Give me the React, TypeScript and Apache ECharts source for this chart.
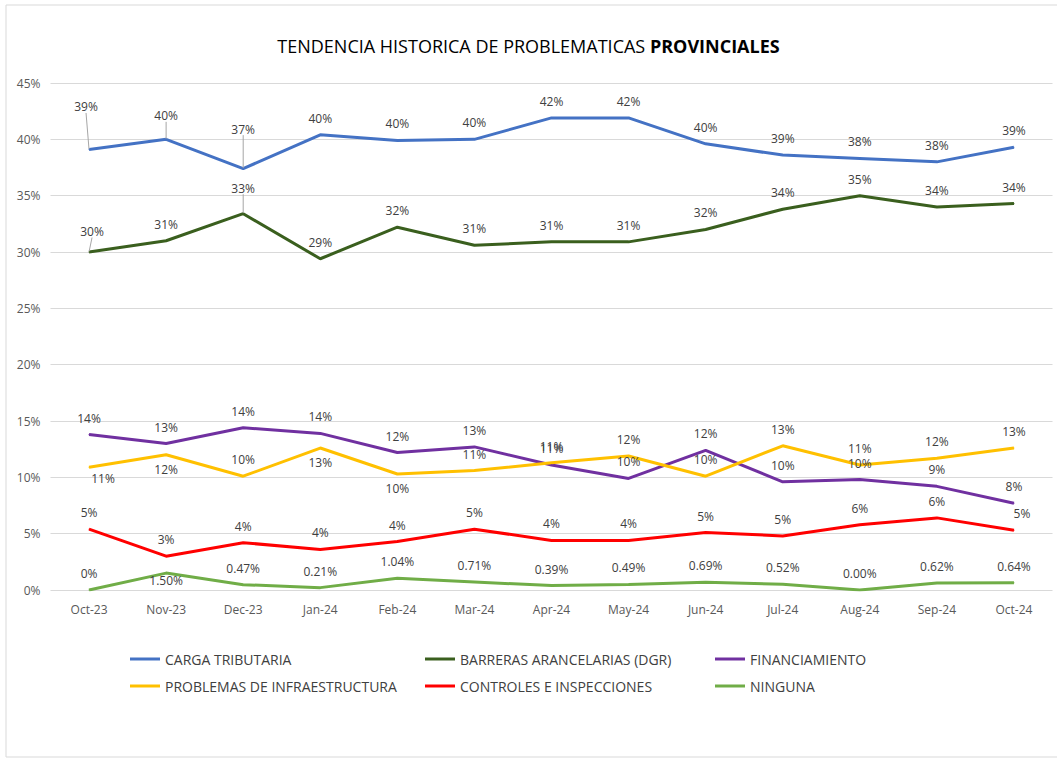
import React, { useEffect, useRef } from "react";
import * as echarts from "echarts";

const months = ["Oct-23", "Nov-23", "Dec-23", "Jan-24", "Feb-24", "Mar-24", "Apr-24", "May-24", "Jun-24", "Jul-24", "Aug-24", "Sep-24", "Oct-24"];
const seriesNames = ["CARGA TRIBUTARIA", "BARRERAS ARANCELARIAS (DGR)", "FINANCIAMIENTO", "PROBLEMAS DE INFRAESTRUCTURA", "CONTROLES E INSPECCIONES", "NINGUNA"];
const cargaTributaria = [39.1, 40.0, 37.4, 40.4, 39.9, 40.0, 41.9, 41.9, 39.6, 38.6, 38.3, 38.0, 39.3];
const barrerasArancelarias = [30.0, 31.0, 33.4, 29.4, 32.2, 30.6, 30.9, 30.9, 32.0, 33.8, 35.0, 34.0, 34.3];
const financiamiento = [13.8, 13.0, 14.4, 13.9, 12.2, 12.7, 11.1, 9.9, 12.4, 9.6, 9.8, 9.2, 7.7];
const infraestructura = [10.9, 12.0, 10.1, 12.6, 10.3, 10.6, 11.3, 11.9, 10.1, 12.8, 11.1, 11.7, 12.6];
const controles = [5.4, 3.0, 4.2, 3.6, 4.3, 5.4, 4.4, 4.4, 5.1, 4.8, 5.8, 6.4, 5.3];
const ninguna = [0, 1.5, 0.47, 0.21, 1.04, 0.71, 0.39, 0.49, 0.69, 0.52, 0, 0.62, 0.64];
const yTicks = [0, 5, 10, 15, 20, 25, 30, 35, 40, 45];

const FONT = "'Open Sans', 'Noto Sans', sans-serif";
const colors = ["#4472C4", "#3A5F1E", "#7030A0", "#FFC000", "#FF0000", "#70AD47"];

export default function App() {
  const ref = useRef<HTMLDivElement>(null);
  useEffect(() => {
    if (!ref.current) return;
    const chart = echarts.init(ref.current, null, { renderer: "svg" });

    const leader = { show: true, lineStyle: { color: "#A6A6A6", width: 1 } };
    const mk = (vals: number[], special: Record<number, any>) =>
      vals.map((v, i) => (special[i] ? { value: v, ...special[i] } : { value: v }));

    const labelBase = {
      show: true,
      position: "top",
      distance: 10,
      fontFamily: FONT,
      fontSize: 12,
      color: "#404040",
    };

    const offsets: Record<string, Record<number, [number, number]>> = {
      [seriesNames[0]]: { 0: [-3, -26], 1: [0, -7], 2: [0, -23] },
      [seriesNames[1]]: { 0: [3, -4], 2: [0, -9] },
    };

    const pct0 = (p: any) => Math.round(p.value) + "%";
    const pctN = (p: any) => (p.dataIndex === 0 ? "0%" : Number(p.value).toFixed(2) + "%");

    const below = { label: { position: "bottom", distance: 8 } };
    const dataSets = [
      mk(cargaTributaria, { 0: { labelLine: leader }, 1: { labelLine: leader }, 2: { labelLine: leader } }),
      mk(barrerasArancelarias, { 0: { labelLine: leader }, 2: { labelLine: leader } }),
      mk(financiamiento, {}),
      mk(infraestructura, { 0: { label: { position: "bottom", distance: 5, offset: [14, 0] } }, 1: below, 3: below, 4: below }),
      mk(controles, { 12: { label: { offset: [8, 0] } } }),
      mk(ninguna, { 1: { label: { position: "bottom", distance: 1 } } }),
    ];

    const series = seriesNames.map((name, si) => ({
      name,
      type: "line",
      data: dataSets[si],
      symbol: "circle",
      symbolSize: 1,
      showSymbol: true,
      lineStyle: { width: 3, color: colors[si] },
      itemStyle: { color: colors[si] },
      label: { ...labelBase, formatter: si === 5 ? pctN : pct0 },
      labelLayout: offsets[name]
        ? (p: any) => {
            const o = offsets[name][p.dataIndex];
            return o ? { dx: o[0], dy: o[1] } : {};
          }
        : undefined,
      z: 2,
    }));

    const legendPos: [number, number][] = [
      [125, 647], [420, 647], [710, 647],
      [125, 674], [420, 674], [710, 674],
    ];
    const legends = seriesNames.map((name, i) => ({
      data: [name],
      left: legendPos[i][0],
      top: legendPos[i][1],
      icon: "rect",
      itemWidth: 30,
      itemHeight: 3,
      selectedMode: false,
      textStyle: { fontFamily: FONT, fontSize: 14, color: "#404040", padding: [0, 0, 0, 0] },
    }));

    chart.setOption({
      animation: false,
      backgroundColor: "#ffffff",
      title: {
        text: "{a|TENDENCIA HISTORICA DE PROBLEMATICAS }{b|PROVINCIALES}",
        left: "center",
        top: 32,
        textStyle: {
          fontWeight: "normal",
          rich: {
            a: { fontFamily: FONT, fontSize: 18, color: "#000000", fontWeight: "normal" },
            b: { fontFamily: FONT, fontSize: 18, color: "#000000", fontWeight: "bold" },
          },
        },
      },
      legend: legends,
      grid: { left: 50.5, right: 4.5, top: 83, bottom: 169, containLabel: false },
      xAxis: {
        type: "category",
        data: months,
        boundaryGap: true,
        axisLine: { show: false },
        axisTick: { show: false },
        axisLabel: { fontFamily: FONT, fontSize: 12, color: "#595959", margin: 13 },
      },
      yAxis: {
        type: "value",
        min: yTicks[0],
        max: yTicks[yTicks.length - 1],
        interval: 5,
        axisLine: { show: false },
        axisTick: { show: false },
        splitLine: { lineStyle: { color: "#D9D9D9", width: 1 } },
        axisLabel: { fontFamily: FONT, fontSize: 12, color: "#595959", margin: 10, formatter: "{value}%" },
      },
      graphic: [
        {
          type: "rect",
          shape: { x: 6, y: 5, width: 1060, height: 752 },
          style: { fill: "none", stroke: "#D9D9D9", lineWidth: 1 },
          silent: true,
        },
      ],
      series,
    });
    return () => chart.dispose();
  }, []);
  return (
    <div
      ref={ref}
      style={{ position: "absolute", left: 0, top: 0, width: 1057, height: 759 }}
    />
  );
}
